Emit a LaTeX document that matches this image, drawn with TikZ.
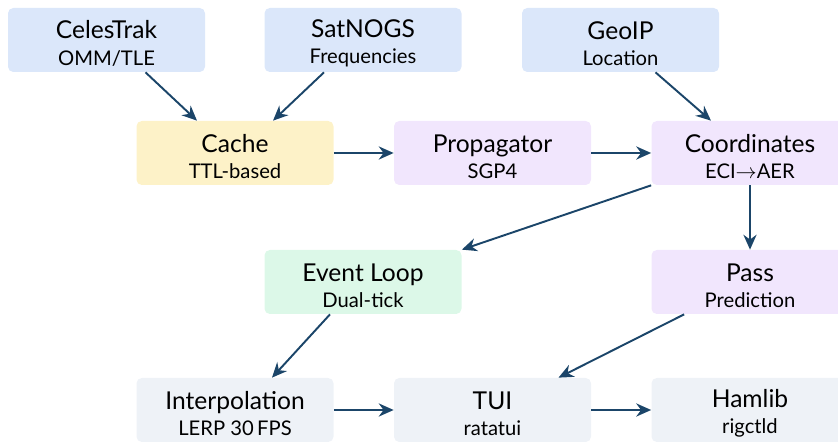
\documentclass[tikz,border=0pt]{standalone}
\usepackage{fontspec}
\setmainfont{Lato}
\usetikzlibrary{arrows.meta}
\definecolor{srcblue}{HTML}{DBE7FA}
\definecolor{cacheyel}{HTML}{FDF2C8}
\definecolor{calcpurp}{HTML}{F1E6FD}
\definecolor{loopgreen}{HTML}{DCF8E8}
\definecolor{outgray}{HTML}{EEF2F7}
\definecolor{flowblue}{HTML}{1B4569}
\tikzset{
  block/.style={rounded corners=3pt,minimum width=3.94cm,minimum height=1.28cm,
    align=center,inner sep=0pt},
  flow/.style={flowblue,line width=1.1pt,-{Stealth[length=8.5pt,width=7.5pt]}},
}
\newcommand\blk[2]{{\fontsize{14}{16}\selectfont\rule{0pt}{14pt}#1}\\[3pt]{\fontsize{11.5}{14}\selectfont #2}}

\begin{document}
\begin{tikzpicture}
  \useasboundingbox (0,0) rectangle (16.76,8.92);

  \def\ra{8.12}
  \def\rb{5.86}
  \def\rc{3.28}
  \def\rd{0.72}

  % SOURCES
  \node[block,fill=srcblue] (celes) at (2.13,\ra) {\blk{CelesTrak}{OMM/TLE}};
  \node[block,fill=srcblue] (satnogs) at (7.26,\ra) {\blk{SatNOGS}{Frequencies}};
  \node[block,fill=srcblue] (geoip) at (12.41,\ra) {\blk{GeoIP}{Location}};

  % PROCESSING
  \node[block,fill=cacheyel] (cache) at (4.70,\rb) {\blk{Cache}{TTL-based}};
  \node[block,fill=calcpurp] (prop) at (9.85,\rb) {\blk{Propagator}{SGP4}};
  \node[block,fill=calcpurp] (coord) at (15.0,\rb) {\blk{Coordinates}{ECI$\rightarrow$AER}};
  \node[block,fill=loopgreen] (loop) at (7.26,\rc) {\blk{Event Loop}{Dual-tick}};
  \node[block,fill=calcpurp] (pass) at (15.0,\rc) {\blk{Pass}{Prediction}};

  % OUTPUT
  \node[block,fill=outgray] (interp) at (4.70,\rd) {\blk{Interpolation}{LERP 30\,FPS}};
  \node[block,fill=outgray] (tui) at (9.85,\rd) {\blk{TUI}{ratatui}};
  \node[block,fill=outgray] (hamlib) at (15.0,\rd) {\blk{Hamlib}{rigctld}};

  % ARROWS
  \draw[flow] ([xshift=0.78cm]celes.south) -- ([xshift=-0.76cm]cache.north);
  \draw[flow] ([xshift=-0.78cm]satnogs.south) -- ([xshift=0.76cm]cache.north);
  \draw[flow] ([xshift=0.7cm]geoip.south) -- ([xshift=-0.78cm]coord.north);
  \draw[flow] (cache) -- (prop);
  \draw[flow] (prop) -- (coord);
  \draw[flow] (coord.south west) -- (loop.north east);
  \draw[flow] (coord) -- (pass);
  \draw[flow] ([xshift=-0.66cm]loop.south) -- ([xshift=0.74cm]interp.north);
  \draw[flow] ([xshift=0.66cm]pass.south west) -- ([xshift=1.32cm]tui.north);
  \draw[flow] (interp) -- (tui);
  \draw[flow] (tui) -- (hamlib);
\end{tikzpicture}
\end{document}
